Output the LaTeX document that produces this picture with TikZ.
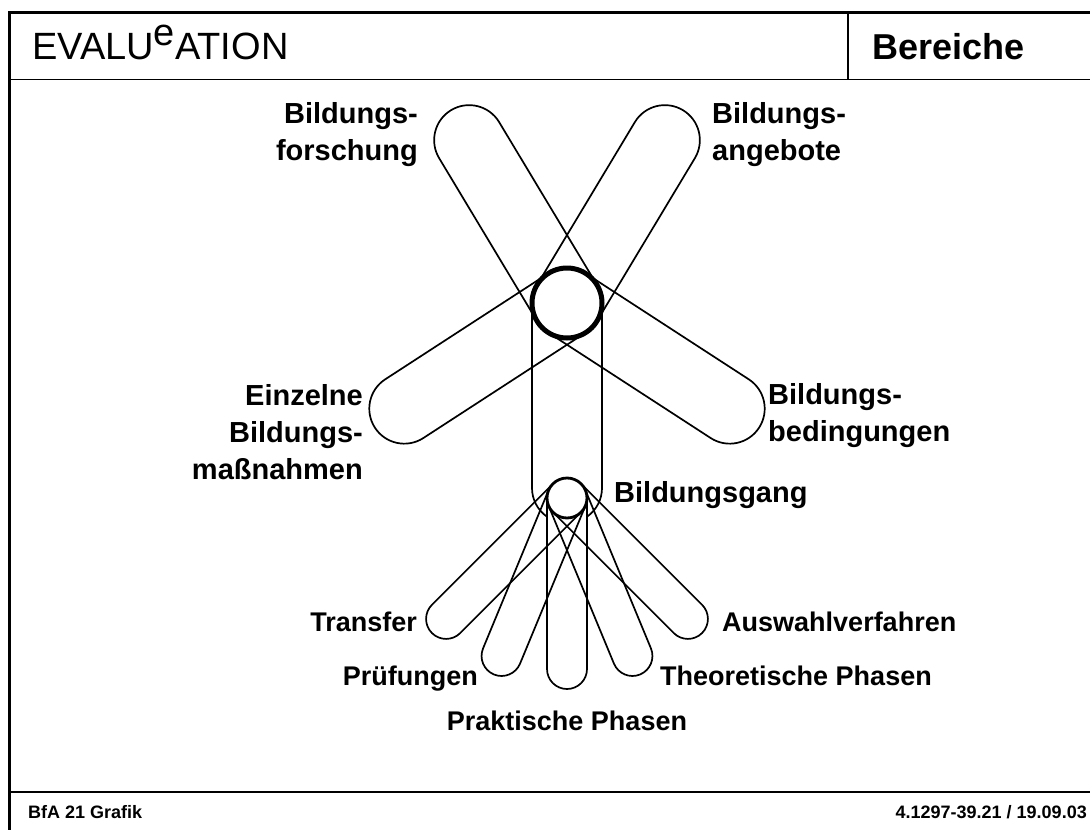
\documentclass[tikz,border=0pt]{standalone}
\usepackage{fontspec}
\setmainfont{Liberation Sans}
\usetikzlibrary{calc}

\begin{document}
\begin{tikzpicture}[x=1pt, y=1pt,
    frame/.style = {line width=3pt},
    rule/.style = {line width=1.5pt},
    arm/.style = {line width=1.7pt, line join=round},
    hub/.style = {draw, circle, fill=white, inner sep=0pt},
    lbl/.style = {font=\fontsize{29}{37}\selectfont\bfseries, inner sep=0pt},
    sublbl/.style = {font=\fontsize{27}{33}\selectfont\bfseries, inner sep=0pt}]
    \useasboundingbox (0,0) rectangle (1090,-830);

    % Rahmen
    \draw[frame] (8,-12.5) -- (1100,-12.5);
    \draw[frame] (9.5,-11) -- (9.5,-840);
    \draw[rule] (8,-79.5) -- (1100,-79.5);
    \draw[rule] (848,-12.5) -- (848,-79.5);
    \draw[rule] (8,-792) -- (1100,-792);

    \node[anchor=base west, inner sep=0pt, font=\fontsize{38}{42}\selectfont] (titel) at (32,-59) {EVALU\raisebox{14pt}{e}ATION};
    \node[anchor=base west, inner sep=0pt, font=\fontsize{36}{40}\selectfont\bfseries] (bereiche) at (872,-59) {Bereiche};
    \node[anchor=base west, inner sep=0pt, font=\fontsize{18}{20}\selectfont\bfseries] (bfa) at (28,-818) {BfA 21 Grafik};
    \node[anchor=base east, inner sep=0pt, font=\fontsize{18}{20}\selectfont\bfseries] (nummer) at (1087,-818) {4.1297-39.21 / 19.09.03};

    \coordinate (mitte) at (567,-303);
    \coordinate (gangmitte) at (567,-498);

    % grosse Schleifen
    \foreach \a/\l in {121/190, 59/190, 213/194, 327/194}
        \draw[arm] ($(mitte)+(\a+90:35)$) -- ++(\a:\l) arc[start angle=\a+90, delta angle=-180, radius=35] -- ++(\a+180:\l);
    \draw[arm] ($(mitte)+(180:35)$) -- ++(0,-185) arc[start angle=180, end angle=235, radius=35];
    \draw[arm] ($(mitte)+(0:35)$) -- ++(0,-185) arc[start angle=360, end angle=305, radius=35];

    % kleine Schleifen
    \foreach \a in {225, 247.5, 270, 292.5, 315}
        \draw[arm] ($(gangmitte)+(\a+90:20)$) -- ++(\a:171) arc[start angle=\a+90, delta angle=-180, radius=20] -- ++(\a+180:171);

    \node[hub, minimum size=70pt, line width=5pt] (bereich) at (mitte) {};
    \node[hub, minimum size=40pt, line width=2.8pt] (gang) at (gangmitte) {};

    \node[lbl, align=right, anchor=east] (forschung) at (418,-135) {Bildungs-\\forschung};
    \node[lbl, align=left, anchor=west] (angebote) at (712,-135) {Bildungs-\\angebote};
    \node[lbl, align=right, anchor=east] (einzelne) at (363,-432) {Einzelne\\Bildungs-\\maßnahmen};
    \node[lbl, align=left, anchor=west] (bedingungen) at (768,-416) {Bildungs-\\bedingungen};
    \node[lbl, anchor=west] (ganglbl) at (614,-495) {Bildungsgang};

    \node[sublbl, anchor=base east] (transfer) at (417,-631) {Transfer};
    \node[sublbl, anchor=base east] (pruefungen) at (478,-685) {Prüfungen};
    \node[sublbl, anchor=base] (praktisch) at (567,-730) {Praktische Phasen};
    \node[sublbl, anchor=base west] (theoretisch) at (660,-685) {Theoretische Phasen};
    \node[sublbl, anchor=base west] (auswahl) at (722,-631) {Auswahlverfahren};
\end{tikzpicture}
\end{document}
